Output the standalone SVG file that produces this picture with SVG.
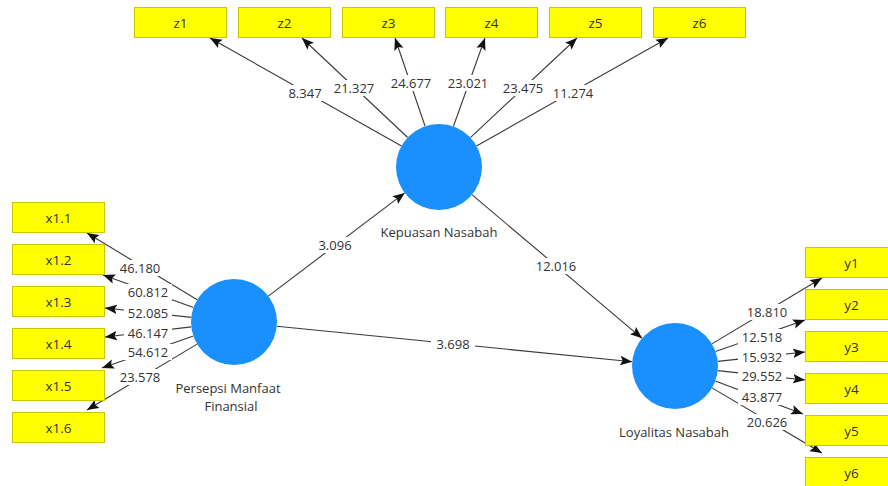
<svg xmlns="http://www.w3.org/2000/svg" width="888" height="486" viewBox="0 0 888 486">
  <defs>
    <marker id="arrow" viewBox="0 0 10 8" refX="10" refY="4" markerWidth="12" markerHeight="10" markerUnits="userSpaceOnUse" orient="auto">
      <path d="M0,0 L10,4 L0,8 L2,4 z" fill="#111"/>
    </marker>
    <style>
      .box { fill: #ffff00; stroke: #c8c800; stroke-width: 1; }
      .btxt { font-family: "Open Sans", "Noto Sans", sans-serif; font-size: 13.5px; fill: #333; text-anchor: middle; }
      .lv { fill: #1a90ff; }
      .ltxt { font-family: "Open Sans", "Noto Sans", sans-serif; font-size: 13px; fill: #333; text-anchor: middle; }
      .edge { stroke: #3a3a3a; stroke-width: 1.1; fill: none; marker-end: url(#arrow); }
      .lbg { fill: #ffffff; }
      .num { font-family: "Open Sans", "Noto Sans", sans-serif; font-size: 13px; fill: #333; text-anchor: middle; }
    </style>
  </defs>
  <rect width="888" height="486" fill="#ffffff"/>

  <!-- connectors -->
  <g id="connectors">
    <!-- Kepuasan Nasabah outer loadings -->
    <line class="edge" x1="401.5" y1="145.9" x2="210" y2="38"/>
    <line class="edge" x1="407.7" y1="137.5" x2="302" y2="38"/>
    <line class="edge" x1="425.1" y1="126.3" x2="395" y2="38"/>
    <line class="edge" x1="453.4" y1="126.5" x2="485" y2="38"/>
    <line class="edge" x1="470.4" y1="137.6" x2="577" y2="38"/>
    <line class="edge" x1="476.5" y1="145.9" x2="668" y2="38"/>
    <!-- Persepsi Manfaat Finansial outer loadings -->
    <line class="edge" x1="197.2" y1="299.7" x2="87" y2="233"/>
    <line class="edge" x1="193.5" y1="307.5" x2="103" y2="275"/>
    <line class="edge" x1="191.3" y1="317.4" x2="105" y2="308"/>
    <line class="edge" x1="191.3" y1="326.9" x2="105" y2="337"/>
    <line class="edge" x1="193.4" y1="336.1" x2="102" y2="368"/>
    <line class="edge" x1="197.1" y1="344.1" x2="87" y2="410"/>
    <!-- Loyalitas Nasabah outer loadings -->
    <line class="edge" x1="711.9" y1="343.9" x2="822" y2="278"/>
    <line class="edge" x1="715.5" y1="351.6" x2="805" y2="320"/>
    <line class="edge" x1="717.7" y1="361.4" x2="805" y2="352"/>
    <line class="edge" x1="717.7" y1="370.6" x2="805" y2="380"/>
    <line class="edge" x1="715.3" y1="381.1" x2="803" y2="414"/>
    <line class="edge" x1="712" y1="387.9" x2="822" y2="453"/>
    <!-- structural paths -->
    <line class="edge" x1="268.3" y1="296.1" x2="404.7" y2="192.9"/>
    <line class="edge" x1="471.9" y1="194.7" x2="642.1" y2="338.3"/>
    <line class="edge" x1="276.8" y1="326.3" x2="632.2" y2="361.7"/>

    <!-- path coefficient labels -->
    <g id="edge-labels">
      <rect class="lbg" x="283" y="85" width="44" height="16"/><text class="num" x="305" y="97.5">8.347</text>
      <rect class="lbg" x="330" y="80" width="48" height="16"/><text class="num" x="354" y="92.5">21.327</text>
      <rect class="lbg" x="387" y="75" width="48" height="16"/><text class="num" x="411" y="87.5">24.677</text>
      <rect class="lbg" x="444" y="75" width="48" height="16"/><text class="num" x="468" y="87.5">23.021</text>
      <rect class="lbg" x="499" y="80" width="48" height="16"/><text class="num" x="523" y="92.5">23.475</text>
      <rect class="lbg" x="549" y="85" width="48" height="16"/><text class="num" x="573" y="97.5">11.274</text>

      <rect class="lbg" x="116" y="260" width="48" height="16"/><text class="num" x="140" y="272.5">46.180</text>
      <rect class="lbg" x="124" y="284" width="48" height="16"/><text class="num" x="148" y="296.5">60.812</text>
      <rect class="lbg" x="124" y="305" width="48" height="16"/><text class="num" x="148" y="317.5">52.085</text>
      <rect class="lbg" x="124" y="325" width="48" height="16"/><text class="num" x="148" y="337.5">46.147</text>
      <rect class="lbg" x="124" y="344" width="48" height="16"/><text class="num" x="148" y="356.5">54.612</text>
      <rect class="lbg" x="116" y="369" width="48" height="16"/><text class="num" x="140" y="381.5">23.578</text>

      <rect class="lbg" x="743" y="304" width="48" height="16"/><text class="num" x="767" y="316.5">18.810</text>
      <rect class="lbg" x="738" y="329" width="48" height="16"/><text class="num" x="762" y="341.5">12.518</text>
      <rect class="lbg" x="738" y="349" width="48" height="16"/><text class="num" x="762" y="361.5">15.932</text>
      <rect class="lbg" x="738" y="368" width="48" height="16"/><text class="num" x="762" y="380.5">29.552</text>
      <rect class="lbg" x="738" y="389" width="48" height="16"/><text class="num" x="762" y="401.5">43.877</text>
      <rect class="lbg" x="743" y="414" width="48" height="16"/><text class="num" x="767" y="426.5">20.626</text>

      <rect class="lbg" x="313" y="237" width="44" height="16"/><text class="num" x="335" y="249.5">3.096</text>
      <rect class="lbg" x="532" y="258" width="48" height="16"/><text class="num" x="556" y="270.5">12.016</text>
      <rect class="lbg" x="431" y="336" width="44" height="16"/><text class="num" x="453" y="348.5">3.698</text>
    </g>
  </g>

  <!-- latent variables -->
  <g id="kepuasan-nasabah">
    <circle class="lv" cx="439" cy="167" r="43"/>
    <text class="ltxt" x="439" y="236.5">Kepuasan Nasabah</text>
  </g>
  <g id="persepsi-manfaat-finansial">
    <circle class="lv" cx="234" cy="322" r="43"/>
    <text class="ltxt" x="228" y="392.5">Persepsi Manfaat</text>
    <text class="ltxt" x="231" y="410.5">Finansial</text>
  </g>
  <g id="loyalitas-nasabah">
    <circle class="lv" cx="675" cy="366" r="43"/>
    <text class="ltxt" x="674" y="436.5">Loyalitas Nasabah</text>
  </g>

  <!-- indicators: Kepuasan Nasabah -->
  <g id="z1"><rect class="box" x="134.5" y="7.5" width="92" height="30"/><text class="btxt" x="180.5" y="27.5">z1</text></g>
  <g id="z2"><rect class="box" x="238.5" y="7.5" width="92" height="30"/><text class="btxt" x="284.5" y="27.5">z2</text></g>
  <g id="z3"><rect class="box" x="342.5" y="7.5" width="92" height="30"/><text class="btxt" x="388.5" y="27.5">z3</text></g>
  <g id="z4"><rect class="box" x="445.5" y="7.5" width="92" height="30"/><text class="btxt" x="491.5" y="27.5">z4</text></g>
  <g id="z5"><rect class="box" x="549.5" y="7.5" width="92" height="30"/><text class="btxt" x="595.5" y="27.5">z5</text></g>
  <g id="z6"><rect class="box" x="653.5" y="7.5" width="92" height="30"/><text class="btxt" x="699.5" y="27.5">z6</text></g>

  <!-- indicators: Persepsi Manfaat Finansial -->
  <g id="x1.1"><rect class="box" x="12.5" y="202.5" width="92" height="30"/><text class="btxt" x="58.5" y="222.5">x1.1</text></g>
  <g id="x1.2"><rect class="box" x="12.5" y="244.5" width="92" height="30"/><text class="btxt" x="58.5" y="264.5">x1.2</text></g>
  <g id="x1.3"><rect class="box" x="12.5" y="286.5" width="92" height="30"/><text class="btxt" x="58.5" y="306.5">x1.3</text></g>
  <g id="x1.4"><rect class="box" x="12.5" y="328.5" width="92" height="30"/><text class="btxt" x="58.5" y="348.5">x1.4</text></g>
  <g id="x1.5"><rect class="box" x="12.5" y="370.5" width="92" height="30"/><text class="btxt" x="58.5" y="390.5">x1.5</text></g>
  <g id="x1.6"><rect class="box" x="12.5" y="412.5" width="92" height="30"/><text class="btxt" x="58.5" y="432.5">x1.6</text></g>

  <!-- indicators: Loyalitas Nasabah -->
  <g id="y1"><rect class="box" x="805.5" y="247.5" width="92" height="30"/><text class="btxt" x="851.5" y="267.5">y1</text></g>
  <g id="y2"><rect class="box" x="805.5" y="289.5" width="92" height="30"/><text class="btxt" x="851.5" y="309.5">y2</text></g>
  <g id="y3"><rect class="box" x="805.5" y="331.5" width="92" height="30"/><text class="btxt" x="851.5" y="351.5">y3</text></g>
  <g id="y4"><rect class="box" x="805.5" y="373.5" width="92" height="30"/><text class="btxt" x="851.5" y="393.5">y4</text></g>
  <g id="y5"><rect class="box" x="805.5" y="415.5" width="92" height="30"/><text class="btxt" x="851.5" y="435.5">y5</text></g>
  <g id="y6"><rect class="box" x="805.5" y="457.5" width="92" height="30"/><text class="btxt" x="851.5" y="477.5">y6</text></g>
</svg>
